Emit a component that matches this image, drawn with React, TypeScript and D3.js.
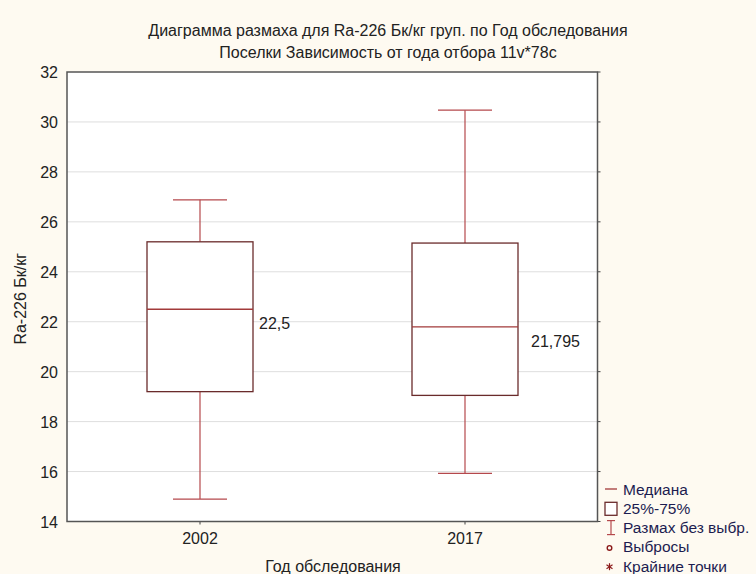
import React from "react";
import * as d3 from "d3";

const categories = ["2002", "2017"];
const q1 = [19.2, 19.05];
const q3 = [25.2, 25.15];
const medians = [22.5, 21.795];
const whiskerLow = [14.9, 15.93];
const whiskerHigh = [26.88, 30.47];
const medianLabels = ["22,5", "21,795"];
const yTicks = [14, 16, 18, 20, 22, 24, 26, 28, 30, 32];
const legendItems = ["Медиана", "25%-75%", "Размах без выбр.", "Выбросы", "Крайние точки"];
const titleLines = [
  "Диаграмма размаха для Ra-226 Бк/кг груп. по Год обследования",
  "Поселки Зависимость от года отбора 11v*78c",
];

const W = 756, H = 574;
const left = 67, right = 597.5, top = 72, bottom = 521.5;
const font = "'Liberation Sans', Arial, sans-serif";

export default function App() {
  const y = d3.scaleLinear().domain([14, 32]).range([bottom, top]);
  const x = d3.scalePoint<string>().domain(categories).range([200, 465]);
  const boxW = 106, capW = 54;
  const boxColor = "#6a2b2b";
  const whiskColor = "#b5484c";
  const medColor = "#a23a3a";
  const textColor = "#222";
  const legendColor = "#1c1c50";
  const fs = 16;
  return (
    <svg width={W} height={H} style={{ position: "absolute", left: 0, top: 0, display: "block" }}>
      <rect x={0} y={0} width={W} height={H} fill="#fefaf1" />
      <rect x={left} y={top} width={right - left} height={bottom - top} fill="#ffffff" />
      {titleLines.map((t, i) => (
        <text key={i} x={388} y={36 + i * 22} textAnchor="middle" fontFamily={font} fontSize={fs} fill={textColor}>{t}</text>
      ))}
      {yTicks.filter(v => v > 14 && v < 32).map(v => (
        <line key={v} x1={left} x2={right} y1={y(v)} y2={y(v)} stroke="#dedede" strokeWidth={1} />
      ))}
      {yTicks.map(v => (
        <g key={"t" + v}>
          <text x={58} y={y(v) + 6} textAnchor="end" fontFamily={font} fontSize={fs} fill={textColor}>{v}</text>
          <line x1={right} x2={right + 3} y1={y(v)} y2={y(v)} stroke="#444" />
        </g>
      ))}
      {categories.map((c, i) => {
        const cx = x(c)!;
        return (
          <g key={c}>
            <line x1={cx} x2={cx} y1={y(whiskerHigh[i])} y2={y(q3[i])} stroke={whiskColor} strokeWidth={1.2} />
            <line x1={cx} x2={cx} y1={y(q1[i])} y2={y(whiskerLow[i])} stroke={whiskColor} strokeWidth={1.2} />
            <line x1={cx - capW / 2} x2={cx + capW / 2} y1={y(whiskerHigh[i])} y2={y(whiskerHigh[i])} stroke={whiskColor} strokeWidth={1.2} />
            <line x1={cx - capW / 2} x2={cx + capW / 2} y1={y(whiskerLow[i])} y2={y(whiskerLow[i])} stroke={whiskColor} strokeWidth={1.2} />
            <rect x={cx - boxW / 2} y={y(q3[i])} width={boxW} height={y(q1[i]) - y(q3[i])} fill="#ffffff" stroke={boxColor} strokeWidth={1.3} />
            <line x1={cx - boxW / 2} x2={cx + boxW / 2} y1={y(medians[i])} y2={y(medians[i])} stroke={medColor} strokeWidth={1.3} />
            <text x={cx + boxW / 2 + 6 + (i === 1 ? 7 : 0)} y={y(medians[i]) + 20} fontFamily={font} fontSize={fs} fill={textColor}>{medianLabels[i]}</text>
            <line x1={cx} x2={cx} y1={bottom} y2={bottom + 3} stroke="#444" />
            <text x={cx} y={544} textAnchor="middle" fontFamily={font} fontSize={fs} fill={textColor}>{c}</text>
          </g>
        );
      })}
      <rect x={left} y={top} width={right - left} height={bottom - top} fill="none" stroke="#555" strokeWidth={1.5} />
      <text x={333} y={572} textAnchor="middle" fontFamily={font} fontSize={fs} fill={textColor}>Год обследования</text>
      <text transform={`translate(26,${(top + bottom) / 2 + 2}) rotate(-90)`} textAnchor="middle" fontFamily={font} fontSize={fs} fill={textColor}>Ra-226 Бк/кг</text>
      {legendItems.map((t, i) => {
        const cy = 489 + i * 19.3;
        return (
          <g key={t}>
            {i === 0 && <line x1={605} x2={617} y1={cy} y2={cy} stroke={medColor} strokeWidth={1.3} />}
            {i === 1 && <rect x={605} y={cy - 6} width={12} height={13} fill="#fff" stroke={boxColor} strokeWidth={1.3} />}
            {i === 2 && (
              <g stroke={whiskColor} strokeWidth={1.2}>
                <line x1={607} x2={615} y1={cy - 7} y2={cy - 7} />
                <line x1={611} x2={611} y1={cy - 7} y2={cy + 7} />
                <line x1={607} x2={615} y1={cy + 7} y2={cy + 7} />
              </g>
            )}
            {i === 3 && <circle cx={609.5} cy={cy + 1} r={2.3} fill="none" stroke="#8b1a1a" strokeWidth={1.4} />}
            {i === 4 && (
              <g stroke="#8b1a1a" strokeWidth={1.2}>
                <line x1={609.5} x2={609.5} y1={cy - 3} y2={cy + 4} />
                <line x1={606.5} x2={612.5} y1={cy - 1.5} y2={cy + 2.5} />
                <line x1={606.5} x2={612.5} y1={cy + 2.5} y2={cy - 1.5} />
              </g>
            )}
            <text x={623} y={cy + 5.5} fontFamily={font} fontSize={15.5} fill={legendColor}>{t}</text>
          </g>
        );
      })}
    </svg>
  );
}
